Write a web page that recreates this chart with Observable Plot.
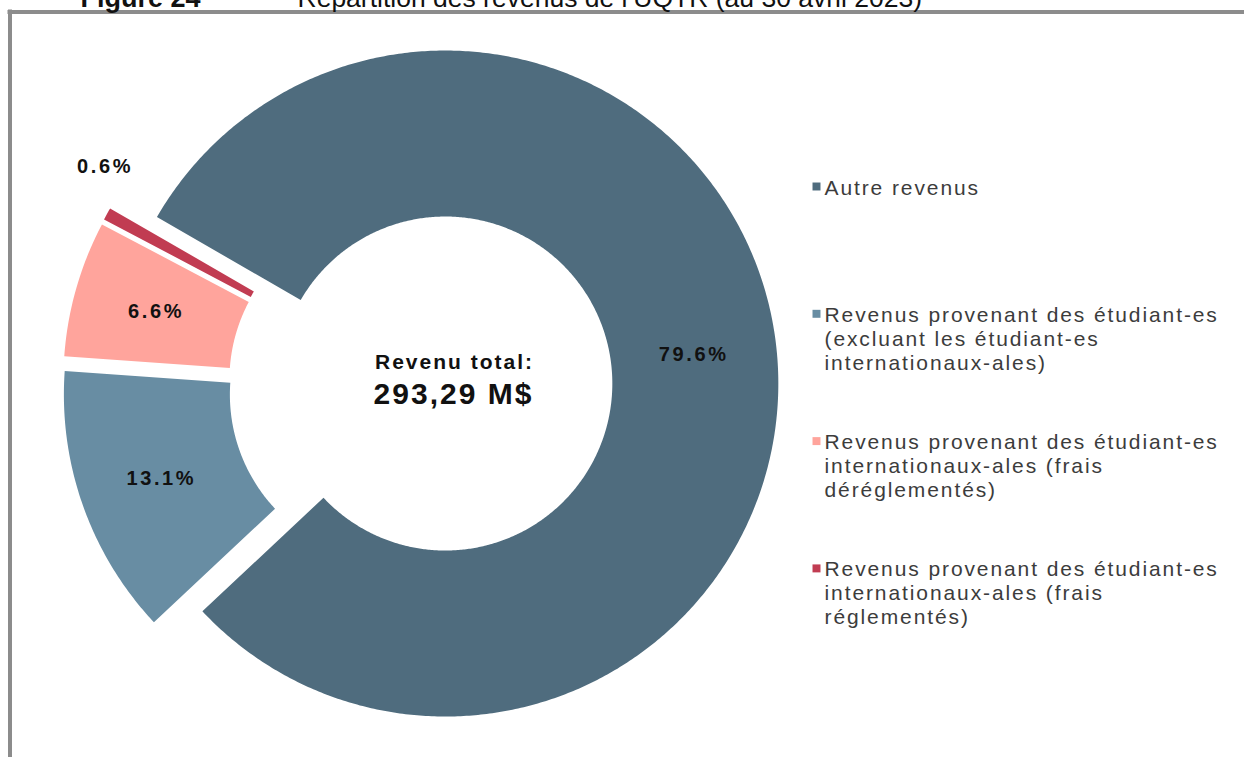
<!DOCTYPE html>
<html>
<head>
<meta charset="utf-8">
<script src="https://cdn.jsdelivr.net/npm/d3@7"></script>
<script src="https://cdn.jsdelivr.net/npm/@observablehq/plot@0.6"></script>
<style>
  html, body { margin: 0; padding: 0; background: #fff; overflow: hidden; }
  #chart svg { display: block; }
</style>
</head>
<body>
<div id="chart"></div>
<script>
// ---- Data ----
const categories = [
  "Autre revenus",
  "Revenus provenant des étudiant-es (excluant les étudiant-es internationaux-ales)",
  "Revenus provenant des étudiant-es internationaux-ales (frais déréglementés)",
  "Revenus provenant des étudiant-es internationaux-ales (frais réglementés)"
];
const legendLines = [
  "Autre revenus",
  "Revenus provenant des étudiant-es\n(excluant les étudiant-es\ninternationaux-ales)",
  "Revenus provenant des étudiant-es\ninternationaux-ales (frais\ndéréglementés)",
  "Revenus provenant des étudiant-es\ninternationaux-ales (frais\nréglementés)"
];
const shares = [79.6, 13.1, 6.6, 0.6];
const shareLabels = ["79.6%", "13.1%", "6.6%", "0.6%"];
const colors = ["#4f6c7e", "#688da3", "#ffa49c", "#c13c52"];
const totalTitle = "Revenu total:";
const totalValue = "293,29 M$";
const figureNumber = "Figure 24";
const figureTitle = "Répartition des revenus de l’UQTR (au 30 avril 2023)";

// ---- Layout / style ----
const W = 1244, H = 759;
const cx = 419, cy = 386;          // base center of the donut
const R = 333, r0 = 167;           // outer / inner radius
const explode = [26, 24, 24, 24];  // slice explosion distances
const outsideLabel = [false, false, false, true];
const startAngle = -60 * Math.PI / 180;

const arcs = d3.pie().sort(null).value(d => d)
  .startAngle(startAngle).endAngle(startAngle + 2 * Math.PI)(shares);

const pt = (c, a, rad) => [c[0] + rad * Math.sin(a), c[1] - rad * Math.cos(a)];

const slices = arcs.map((a, i) => {
  const mid = (a.startAngle + a.endAngle) / 2;
  return { cat: categories[i], a0: a.startAngle, a1: a.endAngle, mid, c: pt([cx, cy], mid, explode[i]) };
});

const pts = [];
slices.forEach(s => {
  const n = Math.max(4, Math.ceil((s.a1 - s.a0) / (Math.PI / 360)));
  for (let k = 0; k <= n; k++) {
    const [x, y] = pt(s.c, s.a0 + (s.a1 - s.a0) * k / n, R);
    pts.push({ cat: s.cat, x, y });
  }
  for (let k = n; k >= 0; k--) {
    const [x, y] = pt(s.c, s.a0 + (s.a1 - s.a0) * k / n, r0);
    pts.push({ cat: s.cat, x, y });
  }
});

const labelData = slices.map((s, i) => {
  const [x, y] = outsideLabel[i]
    ? pt(s.c, s.mid + 6.5 * Math.PI / 180, 360)
    : pt(s.c, s.mid, (R + r0) / 2);
  return { x, y, text: shareLabels[i] };
});

const legendData = categories.map((cat, i) => ({
  cat, text: legendLines[i], base: 192 + i * 127.3
}));

const font = "'Liberation Sans', Arial, Helvetica, sans-serif";

const chart = Plot.plot({
  width: W, height: H, margin: 0,
  x: { domain: [0, W], range: [0, W], axis: null },
  y: { domain: [0, H], range: [0, H], axis: null },
  color: { domain: categories, range: colors },
  style: { fontFamily: font, background: "#fff", overflow: "hidden" },
  marks: [
    // frame lines
    Plot.ruleY([11.5], { x1: 7.5, x2: W, stroke: "#8c8c8c", strokeWidth: 4 }),
    Plot.ruleX([9.5], { y1: 9.5, y2: 757, stroke: "#8c8c8c", strokeWidth: 4 }),
    // title (cut off at the top, as in the source)
    Plot.text([figureNumber], { x: 80, y: 6 - 0.32 * 27, text: d => d, textAnchor: "start", lineAnchor: "middle", fontSize: 27, fontWeight: "bold", fill: "#111" }),
    Plot.text([figureTitle], { x: 297, y: 6 - 0.32 * 26.5, text: d => d, textAnchor: "start", lineAnchor: "middle", fontSize: 26.5, fill: "#111" }),
    // donut slices
    Plot.line(pts, { x: "x", y: "y", z: "cat", fill: "cat", stroke: "none", curve: "linear-closed" }),
    // slice labels
    Plot.text(labelData, { x: "x", y: "y", text: "text", fontSize: 20, fontWeight: "bold", fill: "#111", lineAnchor: "middle", ariaDescription: "share-labels" }),
    // center total
    Plot.text([totalTitle], { x: 454, y: 362, text: d => d, fontSize: 21, fontWeight: "bold", fill: "#111", lineAnchor: "middle", ariaDescription: "total-title" }),
    Plot.text([totalValue], { x: 453, y: 394, text: d => d, fontSize: 30, fontWeight: "bold", fill: "#111", lineAnchor: "middle", ariaDescription: "total-value" }),
    // legend
    Plot.dot(legendData, { x: 816, y: d => d.base - 6, symbol: "square", r: 4.5, fill: "cat", stroke: "none" }),
    Plot.text(legendData, { x: 824, y: d => d.base - 15, text: "text", textAnchor: "start", lineAnchor: "top", lineHeight: 24 / 21, fontSize: 21, fill: "#3c3c3c", ariaDescription: "legend-text" })
  ]
});

// letter spacing to match the source's wide text rendering
const spacing = { "legend-text": "1.9px", "share-labels": "2.6px", "total-title": "2px", "total-value": "2px" };
chart.querySelectorAll("g[aria-description]").forEach(g => {
  const ls = spacing[g.getAttribute("aria-description")];
  if (ls) g.querySelectorAll("text").forEach(t => t.style.letterSpacing = ls);
});

document.getElementById("chart").appendChild(chart);
</script>
</body>
</html>
